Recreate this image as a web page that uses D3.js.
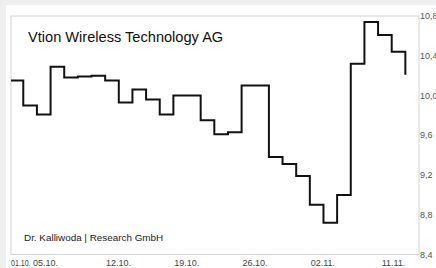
<!DOCTYPE html>
<html>
<head>
<meta charset="utf-8">
<script src="https://cdn.jsdelivr.net/npm/d3@7"></script>
<style>
  html, body { margin: 0; padding: 0; background: #fff; }
  svg { display: block; font-family: "Liberation Sans", Arial, sans-serif; }
</style>
</head>
<body>
<svg id="chart" width="436" height="268"></svg>
<script>
// trading days, Oct 1 - Nov 11
const dates = ["01.10.", "04.10.", "05.10.", "06.10.", "07.10.", "08.10.", "11.10.", "12.10.", "13.10.", "14.10.",
  "15.10.", "18.10.", "19.10.", "20.10.", "21.10.", "22.10.", "25.10.", "26.10.", "27.10.", "28.10.",
  "29.10.", "01.11.", "02.11.", "03.11.", "04.11.", "05.11.", "08.11.", "09.11.", "10.11.", "11.11."];
const closes = [10.15, 9.90, 9.81, 10.29, 10.18, 10.19, 10.20, 10.15, 9.93, 10.06,
  9.96, 9.81, 10.00, 10.00, 9.75, 9.61, 9.63, 10.10, 10.10, 9.38,
  9.31, 9.19, 8.90, 8.72, 9.00, 10.32, 10.74, 10.61, 10.44, 10.21];
const xTickLabels = ["01.10.", "05.10.", "12.10.", "19.10.", "26.10.", "02.11.", "11.11."];
const yTicks = [8.4, 8.8, 9.2, 9.6, 10.0, 10.4, 10.8];
const title = "Vtion Wireless Technology AG";
const source = "Dr. Kalliwoda | Research GmbH";

const svg = d3.select("#chart");
const W = 436, H = 268;
const plot = {left: 11, right: 419, top: 16, bottom: 254.5};

// grey page background behind the chart image
svg.append("rect").attr("width", W).attr("height", H).attr("fill", "#efefef");
svg.append("rect").attr("x", 6).attr("y", 5).attr("width", W - 6).attr("height", H - 5).attr("fill", "#fff");

const x = d3.scaleLinear().domain([0.1, 30]).range([plot.left, plot.right]);
const y = d3.scaleLinear().domain([8.4, 10.8]).range([plot.bottom, plot.top]);

svg.append("clipPath").attr("id", "clip")
  .append("rect")
  .attr("x", plot.left).attr("y", plot.top - 2)
  .attr("width", plot.right - plot.left).attr("height", plot.bottom - plot.top + 4);

// plot frame
svg.append("rect")
  .attr("x", plot.left).attr("y", plot.top)
  .attr("width", plot.right - plot.left).attr("height", plot.bottom - plot.top)
  .attr("fill", "#fff").attr("stroke", "#d4d4d4").attr("stroke-width", 1);

// title + source
svg.append("text").attr("x", 28).attr("y", 42.3)
  .attr("font-size", 14.6).attr("fill", "#111").text(title);
svg.append("text").attr("x", 24).attr("y", 241)
  .attr("font-size", 9.9).attr("fill", "#222").text(source);

// the price line, one step per trading day
const line = d3.line()
  .x((d, i) => x(i))
  .y(d => y(d))
  .curve(d3.curveStepAfter);

svg.append("path")
  .datum(closes)
  .attr("clip-path", "url(#clip)")
  .attr("d", line)
  .attr("fill", "none")
  .attr("stroke", "#111")
  .attr("stroke-width", 2)
  .attr("stroke-linejoin", "miter");

// y axis on the right (cut by the image edge, like the original)
svg.append("g")
  .selectAll("text")
  .data(yTicks)
  .enter()
  .append("text")
  .attr("x", plot.right + 1)
  .attr("y", d => y(d))
  .attr("dy", "0.35em")
  .attr("font-size", 9)
  .attr("fill", "#555")
  .text(d => d3.format(".1f")(d).replace(".", ","));

// x labels
const xg = svg.append("g");
xTickLabels.forEach((lbl, k) => {
  const i = dates.indexOf(lbl);
  let px = Math.max(plot.left, x(i) + 0.8), anchor = "start";
  if (k === xTickLabels.length - 1) { px = x(i); anchor = "end"; }
  if (lbl === "05.10.") px = x(i) - 4;  // pushed left in the original
  const t = xg.append("text")
    .attr("x", px).attr("y", 265.5)
    .attr("text-anchor", anchor)
    .attr("font-size", 9)
    .attr("fill", "#444")
    .text(lbl);
  if (k === 0) t.attr("textLength", 19.5).attr("lengthAdjust", "spacingAndGlyphs");  // squeezed next to 05.10.
});
</script>
</body>
</html>
